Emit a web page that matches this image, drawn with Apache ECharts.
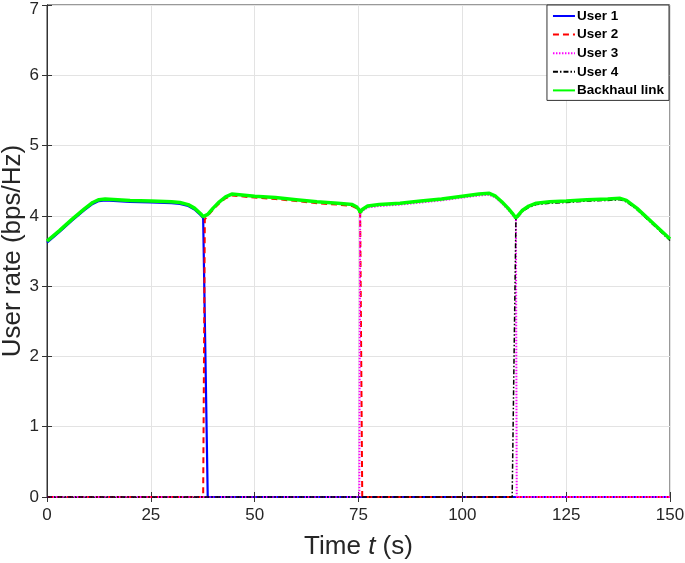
<!DOCTYPE html>
<html>
<head>
<meta charset="utf-8">
<script src="https://cdn.jsdelivr.net/npm/echarts@6/dist/echarts.min.js"></script>
<style>
  html, body { margin: 0; padding: 0; background: #fff; }
  #chart { width: 685px; height: 563px; }
</style>
</head>
<body>
<div id="chart"></div>
<script>
// time samples (s)
var time = [0, 3, 6, 9, 11, 12.5, 14, 20, 25, 30, 32, 34, 35.5, 37,
  37.6, 38, 38.7, 40, 41.5, 43, 44.5, 50, 55, 60, 65, 70,
  73.5, 74.5, 75.2, 75.4, 75.9, 77.2, 80, 85, 90, 95, 100, 104,
  106.5, 108, 109.5, 111, 112, 112.9, 113.1, 114.5, 116, 117.8,
  121, 125, 130, 135, 138, 139.5, 142, 144, 146, 148, 150];

var backhaul = [3.64, 3.79, 3.95, 4.10, 4.19, 4.23, 4.24, 4.22, 4.21, 4.20, 4.19, 4.16, 4.11, 4.03,
  3.99, 3.97, 4.02, 4.11, 4.20, 4.27, 4.31, 4.28, 4.26, 4.23, 4.20, 4.18,
  4.16, 4.13, 4.08, 4.05, 4.09, 4.14, 4.16, 4.18, 4.21, 4.24, 4.28, 4.31,
  4.32, 4.28, 4.20, 4.11, 4.04, 3.97, 3.99, 4.08, 4.14, 4.18,
  4.20, 4.21, 4.23, 4.24, 4.25, 4.22, 4.11, 4.00, 3.89, 3.78, 3.67];

var user1 = [3.62, 3.77, 3.93, 4.08, 4.17, 4.21, 4.22, 4.20, 4.19, 4.18, 4.17, 4.14, 4.09, 4.01,
  3.97, 3.95, 0, 0, 0, 0, 0, 0, 0, 0, 0, 0,
  0, 0, 0, 0, 0, 0, 0, 0, 0, 0, 0, 0,
  0, 0, 0, 0, 0, 0, 0, 0, 0, 0,
  0, 0, 0, 0, 0, 0, 0, 0, 0, 0, 0];

var user2 = [0, 0, 0, 0, 0, 0, 0, 0, 0, 0, 0, 0, 0, 0,
  0, 3.95, 4.00, 4.09, 4.18, 4.25, 4.29, 4.26, 4.24, 4.21, 4.18, 4.16,
  4.14, 4.11, 4.06, 4.03, 0, 0, 0, 0, 0, 0, 0, 0,
  0, 0, 0, 0, 0, 0, 0, 0, 0, 0,
  0, 0, 0, 0, 0, 0, 0, 0, 0, 0, 0];

var user3 = [0, 0, 0, 0, 0, 0, 0, 0, 0, 0, 0, 0, 0, 0,
  0, 0, 0, 0, 0, 0, 0, 0, 0, 0, 0, 0,
  0, 0, 0, 4.03, 4.07, 4.12, 4.14, 4.16, 4.19, 4.22, 4.26, 4.29,
  4.30, 4.26, 4.18, 4.09, 4.02, 3.95, 0, 0, 0, 0,
  0, 0, 0, 0, 0, 0, 0, 0, 0, 0, 0];

var user4 = [0, 0, 0, 0, 0, 0, 0, 0, 0, 0, 0, 0, 0, 0,
  0, 0, 0, 0, 0, 0, 0, 0, 0, 0, 0, 0,
  0, 0, 0, 0, 0, 0, 0, 0, 0, 0, 0, 0,
  0, 0, 0, 0, 0, 3.95, 3.97, 4.06, 4.12, 4.16,
  4.18, 4.19, 4.21, 4.22, 4.23, 4.20, 4.09, 3.98, 3.87, 3.76, 3.65];

var xTicks = [0, 25, 50, 75, 100, 125, 150];
var yTicks = [0, 1, 2, 3, 4, 5, 6, 7];

function pairs(vals) {
  return time.map(function (t, i) { return [t, vals[i]]; });
}

var axisCol = '#333';
var font = 'Liberation Sans, Arial, Helvetica, sans-serif';

var chart = echarts.init(document.getElementById('chart'), null, { renderer: 'canvas' });

function lineSeries(name, vals, color, width, dash) {
  return {
    name: name,
    type: 'line',
    data: pairs(vals),
    symbol: 'none',
    smooth: false,
    clip: false,
    animation: false,
    lineStyle: { color: color, width: width, type: dash },
    itemStyle: { color: color }
  };
}

var option = {
  animation: false,
  backgroundColor: '#fff',
  grid: {
    left: 47, right: 15, top: 5, bottom: 66,
    outerBoundsMode: 'none', containLabel: false,
    show: true, borderColor: axisCol, borderWidth: 1
  },
  legend: {
    right: 16, top: 5,
    orient: 'vertical',
    backgroundColor: '#fff',
    borderColor: axisCol, borderWidth: 1, borderRadius: 0,
    padding: [4, 5, 3, 5],
    itemWidth: 22, itemHeight: 14, itemGap: 4.6,
    itemStyle: { opacity: 0 },
    textStyle: { fontFamily: font, fontWeight: 'bold', fontSize: 13.5, color: '#000', padding: [0, 0, 0, -3] },
    data: ['User 1', 'User 2', 'User 3', 'User 4', 'Backhaul link']
  },
  xAxis: [{
    type: 'value', min: 0, max: 150, interval: 25,
    name: 'Time {i|t} (s)', nameLocation: 'middle', nameGap: 37, nameMoveOverlap: false,
    nameTextStyle: {
      fontFamily: font, fontSize: 26, color: '#262626',
      rich: { i: { fontFamily: font, fontSize: 26, fontStyle: 'italic', color: '#262626' } }
    },
    axisLine: { show: true, onZero: false, lineStyle: { color: axisCol } },
    axisTick: { show: true, inside: true, length: 5, lineStyle: { color: axisCol } },
    axisLabel: { margin: 10, fontFamily: font, fontSize: 17, color: '#262626' },
    splitLine: { show: true, lineStyle: { color: '#e3e3e3', width: 1 } }
  }, {
    type: 'value', position: 'top', min: 0, max: 150, interval: 25,
    axisLine: { show: true, lineStyle: { color: axisCol } },
    axisTick: { show: true, inside: true, length: 5, lineStyle: { color: axisCol } },
    axisLabel: { show: false },
    splitLine: { show: false }
  }],
  yAxis: [{
    type: 'value', min: 0, max: 7, interval: 1,
    name: 'User rate (bps/Hz)', nameLocation: 'middle', nameGap: 21, nameMoveOverlap: false,
    nameTextStyle: { fontFamily: font, fontSize: 26, color: '#262626' },
    axisLine: { show: true, onZero: false, lineStyle: { color: axisCol } },
    axisTick: { show: true, inside: true, length: 5, lineStyle: { color: axisCol } },
    axisLabel: {
      margin: 8, fontFamily: font, fontSize: 17, color: '#262626',
      // keep the top label inside the page
      formatter: function (v) { return v === 7 ? '{top|7}' : String(v); },
      rich: { top: { fontFamily: font, fontSize: 17, color: '#262626', padding: [8, 0, 0, 0] } }
    },
    splitLine: { show: true, lineStyle: { color: '#e3e3e3', width: 1 } }
  }, {
    type: 'value', position: 'right', min: 0, max: 7, interval: 1,
    axisLine: { show: true, lineStyle: { color: axisCol } },
    axisTick: { show: true, inside: true, length: 5, lineStyle: { color: axisCol } },
    axisLabel: { show: false },
    splitLine: { show: false }
  }],
  series: [
    lineSeries('User 1', user1, '#0000ff', 2.2, 'solid'),
    lineSeries('User 2', user2, '#ff0000', 2, [6, 4]),
    lineSeries('User 3', user3, '#ff00ff', 2, [1.5, 1.5]),
    lineSeries('User 4', user4, '#000000', 1.5, [5, 2, 1.5, 2]),
    lineSeries('Backhaul link', backhaul, '#00ff00', 3.5, 'solid')
  ]
};

chart.setOption(option);
</script>
</body>
</html>
